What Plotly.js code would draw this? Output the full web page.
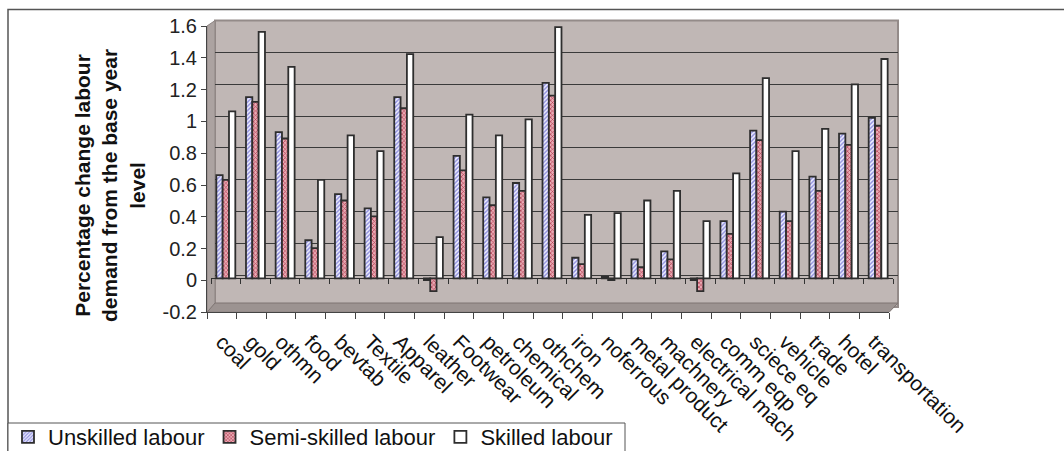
<!DOCTYPE html>
<html>
<head>
<meta charset="utf-8">
<script src="https://cdn.plot.ly/plotly-3.0.1.min.js"></script>
<style>
  html, body { margin: 0; padding: 0; background: #ffffff; }
  #chart { width: 1064px; height: 451px; }
</style>
</head>
<body>
<div id="chart"></div>
<script>
// Sectors on the category axis
const categories = ['coal', 'gold', 'othmn', 'food', 'bevtab', 'Textile', 'Apparel', 'leather',
  'Footwear', 'petroleum', 'chemical', 'othchem', 'iron', 'noferrous', 'metal product',
  'machnery', 'electrical mach', 'comm eqp', 'sciece eq', 'vehicle', 'trade', 'hotel',
  'transportation'];

// Percentage change in labour demand from the base year, by skill level
const unskilled = [0.65, 1.14, 0.92, 0.24, 0.53, 0.44, 1.14, -0.01, 0.77, 0.51, 0.60, 1.23,
  0.13, 0.01, 0.12, 0.17, -0.01, 0.36, 0.93, 0.42, 0.64, 0.91, 1.01];
const semiSkilled = [0.62, 1.11, 0.88, 0.19, 0.49, 0.39, 1.07, -0.08, 0.68, 0.46, 0.55, 1.15,
  0.09, -0.01, 0.07, 0.12, -0.08, 0.28, 0.87, 0.36, 0.55, 0.84, 0.96];
const skilled = [1.05, 1.55, 1.33, 0.62, 0.90, 0.80, 1.41, 0.26, 1.03, 0.90, 1.00, 1.58,
  0.40, 0.41, 0.49, 0.55, 0.36, 0.66, 1.26, 0.80, 0.94, 1.22, 1.38];

const seriesNames = ['Unskilled labour', 'Semi-skilled labour', 'Skilled labour'];
const yTitle = '<b>Percentage change labour<br>demand from the base year<br>level</b>';

// Value axis ticks
const yTickVals = [-0.2, 0, 0.2, 0.4, 0.6, 0.8, 1, 1.2, 1.4, 1.6];
const yTickText = ['-0.2', '0', '0.2', '0.4', '0.6', '0.8', '1', '1.2', '1.4', '1.6'];

const W = 1064, H = 451;
const FONT = 'Liberation Sans, Arial, Helvetica, sans-serif';
const px = x => x / W;          // pixel x -> paper fraction
const py = y => 1 - y / H;      // pixel y -> paper fraction
const yRange = [-0.2, 1.6];

// three depth planes of the pseudo-3D box: back wall, bar plane, front axes
const wall  = { x0: 215, x1: 898, yLo: 306.9, yHi: 20.6 };
const mid   = { x0: 211, x1: 893, yLo: 310.2, yHi: 24.0 };
const front = { x0: 207, x1: 889, yLo: 312.3, yHi: 26.0 };

const outline = { color: '#2e2e2e', width: 1.8 };

const barCommon = {
  type: 'bar', x: categories, xaxis: 'x2', yaxis: 'y2', hoverinfo: 'x+y'
};

const traces = [
  // wall subplot (carries the gridlines)
  { type: 'scatter', x: [], y: [], xaxis: 'x', yaxis: 'y', showlegend: false, hoverinfo: 'skip' },
  Object.assign({}, barCommon, {
    name: seriesNames[0], y: unskilled,
    marker: { color: '#ffffff', line: outline,
      pattern: { shape: '/', fgcolor: '#8c8cdc', bgcolor: '#eeeeff', size: 3, solidity: 0.45 } }
  }),
  Object.assign({}, barCommon, {
    name: seriesNames[1], y: semiSkilled,
    marker: { color: '#ffffff', line: outline,
      pattern: { shape: 'x', fgcolor: '#b03a4e', bgcolor: '#e9aab4', size: 3, solidity: 0.4 } }
  }),
  Object.assign({}, barCommon, {
    name: seriesNames[2], y: skilled,
    marker: { color: '#ffffff', line: outline }
  }),
  // front axes subplot (labels and ticks)
  { type: 'scatter', mode: 'markers', x: categories, y: categories.map(() => null),
    xaxis: 'x3', yaxis: 'y3', showlegend: false, hoverinfo: 'skip' }
];

const shapes = [
  // outer chart frame
  { type: 'rect', xref: 'paper', yref: 'paper', x0: px(8), x1: px(1080), y0: py(470), y1: py(9.5),
    line: { color: '#555555', width: 1.5 }, fillcolor: 'rgba(0,0,0,0)', layer: 'below' },
  // legend frame
  { type: 'rect', xref: 'paper', yref: 'paper', x0: px(8), x1: px(625), y0: py(470), y1: py(423),
    line: { color: '#555555', width: 1 }, fillcolor: '#ffffff', layer: 'below' },
  // back wall
  { type: 'rect', xref: 'paper', yref: 'paper', x0: px(wall.x0), x1: px(wall.x1),
    y0: py(wall.yLo), y1: py(wall.yHi), fillcolor: '#c0b7b5',
    line: { color: '#948b89', width: 2 }, layer: 'below' },
  // left side wall
  { type: 'path', xref: 'paper', yref: 'paper',
    path: `M${px(front.x0)},${py(front.yHi)} L${px(wall.x0)},${py(wall.yHi)} L${px(wall.x0)},${py(wall.yLo)} L${px(front.x0)},${py(front.yLo)} Z`,
    fillcolor: '#aca3a1', line: { color: '#8d8482', width: 1 }, layer: 'below' },
  // floor
  { type: 'path', xref: 'paper', yref: 'paper',
    path: `M${px(front.x0)},${py(front.yLo)} L${px(wall.x0)},${py(303)} L${px(wall.x1)},${py(303)} L${px(front.x1)},${py(front.yLo)} Z`,
    fillcolor: '#9c9391', line: { color: '#7e7573', width: 1 }, layer: 'below' }
];

const layout = {
  width: W, height: H,
  margin: { l: 0, r: 0, t: 0, b: 0, autoexpand: false },
  paper_bgcolor: '#ffffff',
  plot_bgcolor: 'rgba(0,0,0,0)',
  font: { family: FONT, size: 18, color: '#111111' },
  barmode: 'group', bargap: 0.36, bargroupgap: 0,
  showlegend: true,
  legend: {
    orientation: 'h', x: px(8), xanchor: 'left', y: py(416), yanchor: 'top',
    bgcolor: 'rgba(0,0,0,0)', borderwidth: 0,
    font: { family: FONT, size: 22, color: '#111111' },
    itemwidth: 30, traceorder: 'normal'
  },
  shapes: shapes,
  // value-axis title, rotated beside the tick labels
  annotations: [{
    text: yTitle, xref: 'paper', yref: 'paper', x: px(110), y: py(186),
    xanchor: 'center', yanchor: 'middle', textangle: -90, showarrow: false,
    font: { family: FONT, size: 21, color: '#111111' }
  }],
  // back wall plane: gridlines only
  xaxis: { domain: [px(wall.x0), px(wall.x1)], range: [0, 1], visible: false, fixedrange: true },
  yaxis: { domain: [py(wall.yLo), py(wall.yHi)], range: yRange, anchor: 'x',
    tickvals: yTickVals, showticklabels: false, ticks: '', showline: false,
    showgrid: true, gridcolor: '#3a3a3a', gridwidth: 1, zeroline: false, fixedrange: true },
  // bar plane
  xaxis2: { domain: [px(mid.x0), px(mid.x1)], type: 'category', categoryorder: 'array',
    categoryarray: categories, range: [-0.5, categories.length - 0.5],
    anchor: 'free', position: py(278.4), showticklabels: false, showgrid: false,
    showline: false, ticks: 'outside', tickson: 'boundaries', ticklen: 5,
    tickcolor: '#333333', zeroline: false, fixedrange: true },
  yaxis2: { domain: [py(mid.yLo), py(mid.yHi)], range: yRange, anchor: 'x2',
    showticklabels: false, ticks: '', showgrid: false, showline: false,
    zeroline: true, zerolinecolor: '#2e2e2e', zerolinewidth: 1.5, fixedrange: true },
  // front plane: axis lines, ticks and labels
  xaxis3: { domain: [px(front.x0), px(front.x1)], type: 'category', categoryorder: 'array',
    categoryarray: categories, range: [-0.5, categories.length - 0.5], anchor: 'y3',
    showline: true, linecolor: '#444444', linewidth: 1, ticks: 'outside',
    tickson: 'boundaries', ticklen: 6, tickcolor: '#444444', showgrid: false,
    tickangle: 45, ticklabelstandoff: 8,
    tickfont: { family: FONT, size: 21, color: '#111111' },
    zeroline: false, fixedrange: true },
  yaxis3: { domain: [py(front.yLo), py(front.yHi)], range: yRange, anchor: 'x3',
    tickvals: yTickVals, ticktext: yTickText, showline: true, linecolor: '#444444',
    linewidth: 1, ticks: 'outside', ticklen: 5, tickcolor: '#444444', showgrid: false,
    zeroline: false, tickfont: { family: FONT, size: 20, color: '#222222' }, fixedrange: true }
};

Plotly.newPlot('chart', traces, layout, { staticPlot: true, displayModeBar: false });
</script>
</body>
</html>
